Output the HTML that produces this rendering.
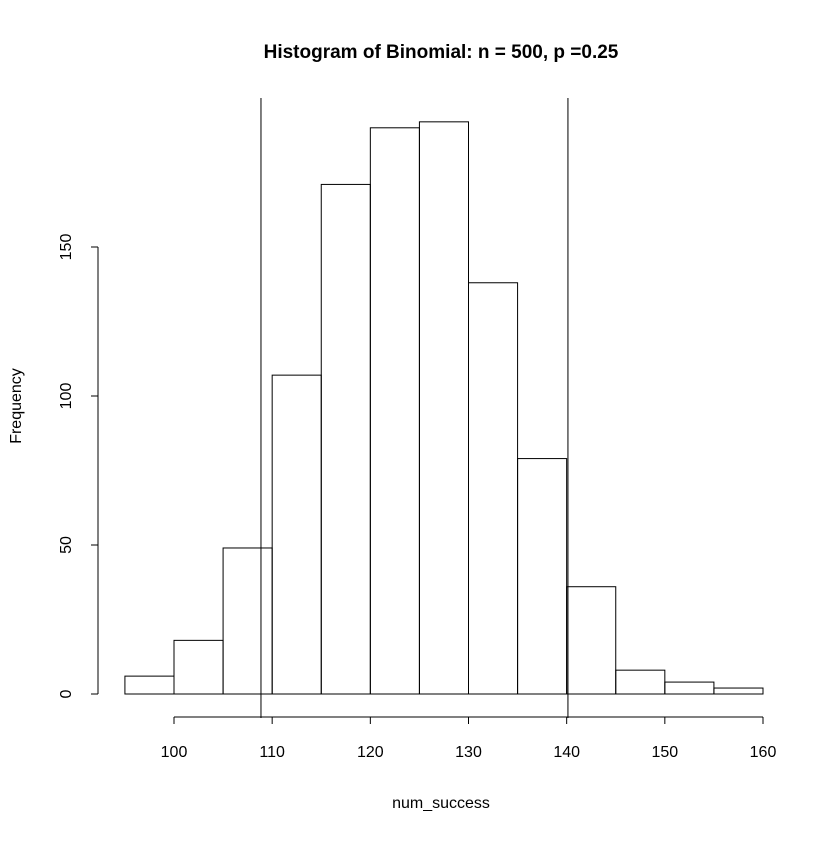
<!DOCTYPE html>
<html><head><meta charset="utf-8"><style>
body{margin:0;background:#fff}
svg text{font-family:"Liberation Sans",sans-serif;fill:#000}
</style></head><body>
<svg width="840" height="840" viewBox="0 0 840 840">
<rect width="840" height="840" fill="#fff"/>
<text x="441" y="58" text-anchor="middle" font-size="19" font-weight="bold">Histogram of Binomial: n = 500, p =0.25</text>
<text x="441" y="808" text-anchor="middle" font-size="16">num_success</text>
<text transform="translate(21,406) rotate(-90)" text-anchor="middle" font-size="16">Frequency</text>
<g id="bars"></g>
<g id="xaxis"></g>
<g id="yaxis"></g>
<g id="vlines"></g>
</svg>
<script>
const binStarts=[95,100,105,110,115,120,125,130,135,140,145,150,155];
const binWidth=5;
const counts=[6,18,49,107,171,190,192,138,79,36,8,4,2];
const xTicks=[100,110,120,130,140,150,160];
const yTicks=[0,50,100,150];
const refLines=[108.86,140.13];
const NS="http://www.w3.org/2000/svg";
function X(v){return 174+(v-100)*(589/60);}
function Y(v){return 694-v*2.98;}
function mk(t,a,p){const e=document.createElementNS(NS,t);for(const k in a)e.setAttribute(k,a[k]);p.appendChild(e);return e;}
const bars=document.getElementById('bars');
binStarts.forEach((s,i)=>{
 const r=mk('rect',{x:X(s),y:Y(counts[i]),width:X(s+binWidth)-X(s),height:Y(0)-Y(counts[i]),fill:'none',stroke:'#000','stroke-width':1},bars);
 
 
});
const xa=document.getElementById('xaxis');
mk('line',{x1:X(xTicks[0]),x2:X(xTicks[xTicks.length-1]),y1:717,y2:717,stroke:'#000'},xa);
xTicks.forEach(t=>{
 mk('line',{x1:X(t),x2:X(t),y1:717,y2:724,stroke:'#000'},xa);
 const tx=mk('text',{x:X(t),y:757,'text-anchor':'middle','font-size':16},xa);
 tx.textContent=t;
 
 
});
const ya=document.getElementById('yaxis');
mk('line',{x1:98,x2:98,y1:Y(yTicks[0]),y2:Y(yTicks[yTicks.length-1]),stroke:'#000'},ya);
yTicks.forEach(t=>{
 mk('line',{x1:91,x2:98,y1:Y(t),y2:Y(t),stroke:'#000'},ya);
 const tx=mk('text',{transform:'translate(71,'+Y(t)+') rotate(-90)','text-anchor':'middle','font-size':16},ya);
 tx.textContent=t;
 
 
});
const vl=document.getElementById('vlines');
refLines.forEach(v=>{
 const l=mk('line',{x1:X(v),x2:X(v),y1:98,y2:718,stroke:'#000'},vl);
 
 
});
</script>
</body></html>
